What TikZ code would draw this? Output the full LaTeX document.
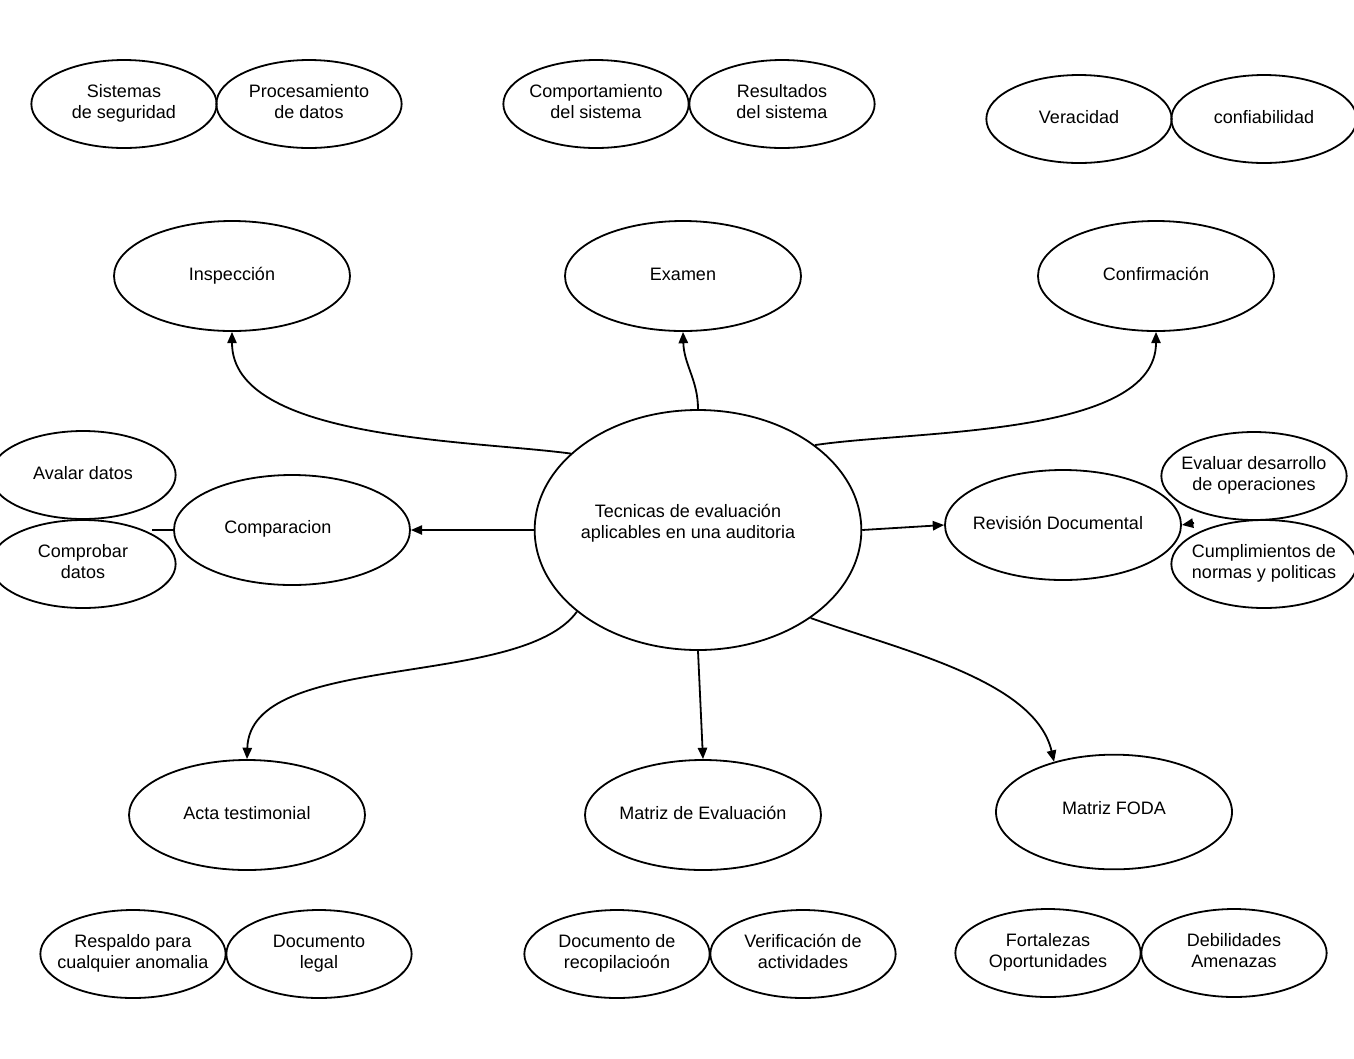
\documentclass[tikz,border=0pt]{standalone}
\usepackage{fontspec}
\setmainfont{Liberation Sans}
\usetikzlibrary{shapes.geometric,arrows.meta}
\newcommand\ovtext[1]{\makebox[0pt]{\begin{tabular}{@{}c@{}}#1\end{tabular}}}

\begin{document}
\begin{tikzpicture}[x=0.75pt,y=-0.75pt,>={Triangle[length=8.5pt,width=7pt]},
  font=\fontsize{13.5}{15.75}\selectfont,line width=1.35pt,
  bubble/.style={draw,ellipse,inner sep=0pt,minimum width=139pt,minimum height=66pt},
  topic/.style={draw,ellipse,inner sep=0pt,minimum width=177pt,minimum height=82.5pt},
  core/.style={draw,ellipse,inner sep=0pt,minimum width=245pt,minimum height=180pt}]
  \useasboundingbox (0,0) rectangle (1354,1058);

  % centro
  \node[core,label={[align=center,shift={(-10,-7)}]center:Tecnicas de evaluación\\aplicables en una auditoria}] (cen) at (698,530) {};

  % tecnicas
  \node[topic] (insp) at (232,276) {\ovtext{Inspección}};
  \node[topic] (exam) at (683,276) {\ovtext{Examen}};
  \node[topic] (conf) at (1156,276) {\ovtext{Confirmación}};
  \node[topic,label={[shift={(-14,-1)}]center:Comparacion}] (cmp) at (292,530) {};
  \node[topic,label={[shift={(-5,-2)}]center:Revisión Documental}] (rev) at (1063,525) {};
  \node[topic] (acta) at (247,815) {\ovtext{Acta testimonial}};
  \node[topic] (mde) at (703,815) {\ovtext{Matriz de Evaluación}};
  \node[topic,minimum height=86pt,label={[shift={(0,-4)}]center:Matriz FODA}] (foda) at (1114,812) {};

  % detalles
  \node[bubble] (sis) at (124,104) {\ovtext{Sistemas\\de seguridad}};
  \node[bubble] (proc) at (309,104) {\ovtext{Procesamiento\\de datos}};
  \node[bubble] (comp) at (596,104) {\ovtext{Comportamiento\\del sistema}};
  \node[bubble] (res) at (782,104) {\ovtext{Resultados\\del sistema}};
  \node[bubble] (ver) at (1079,119) {\ovtext{Veracidad}};
  \node[bubble] (confi) at (1264,119) {\ovtext{confiabilidad}};
  \node[bubble] (aval) at (83,475) {\ovtext{Avalar datos}};
  \node[bubble] (cpb) at (83,564) {\ovtext{Comprobar\\datos}};
  \node[bubble] (eval) at (1254,476) {\ovtext{Evaluar desarrollo\\de operaciones}};
  \node[bubble] (cump) at (1264,564) {\ovtext{Cumplimientos de\\normas y politicas}};
  \node[bubble] (resp) at (133,954) {\ovtext{Respaldo para\\cualquier anomalia}};
  \node[bubble] (docl) at (319,954) {\ovtext{Documento\\legal}};
  \node[bubble] (docr) at (617,954) {\ovtext{Documento de\\recopilacioón}};
  \node[bubble] (verif) at (803,954) {\ovtext{Verificación de\\actividades}};
  \node[bubble] (fort) at (1048,953) {\ovtext{Fortalezas\\Oportunidades}};
  \node[bubble] (debil) at (1234,953) {\ovtext{Debilidades\\Amenazas}};

  \coordinate (cpj) at (152,530);
  \coordinate (rvj) at (1194,523);

  % conectores
  \draw[->] (cen.149) .. controls (470,440) and (232,440) .. (insp.south);
  \draw[->] (cen.north) .. controls (698,380) and (684,365) .. (exam.south);
  \draw[->] (cen.36) .. controls (915,430) and (1156,437) .. (conf.south);
  \draw[->] (cen.west) -- (cmp.east);
  \draw[->] (cen.east) -- (rev.west);
  \draw[->] (cen.214) .. controls (520,690) and (250,650) .. (acta.north);
  \draw[->] (cen.south) -- (mde.north);
  \draw[->] (cen.-38) .. controls (900,650) and (1035,680) .. (foda.140);
  \draw (cpj) -- (cmp.west);
  \draw[->] (rvj) -- (rev.east);
\end{tikzpicture}
\end{document}
